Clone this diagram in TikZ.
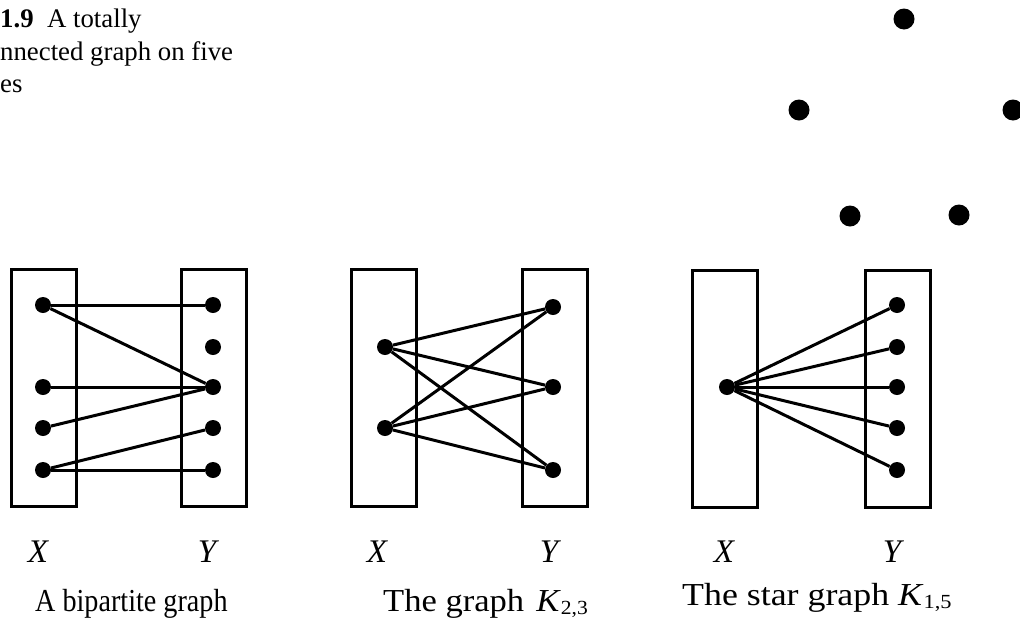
\documentclass[tikz,border=0pt]{standalone}
\usepackage{amsmath}
\usepackage{fontspec}
\setmainfont{Liberation Serif}
\usetikzlibrary{positioning,calc}
\tikzset{
	v/.style={circle,fill=black,inner sep=0pt,minimum size=16pt},
	bigv/.style={circle,fill=black,inner sep=0pt,minimum size=21pt},
	edge/.style={draw=black,line width=3pt},
	part/.style={draw=black,line width=3.2pt,inner sep=0pt,minimum width=65pt,minimum height=237pt},
	captext/.style={font=\fontsize{26.8}{32}\selectfont,inner sep=0pt,anchor=base west},
	sidelbl/.style={font=\fontsize{33}{34}\selectfont\itshape,inner sep=0pt,anchor=base},
	gtitle/.style={font=\fontsize{32}{34}\selectfont,inner sep=0pt,anchor=base west},
}
\newcommand{\Ksub}[1]{\textit{K}\raisebox{-3pt}{\fontsize{20}{20}\selectfont #1}}

\begin{document}
\begin{tikzpicture}[x=1pt,y=-1pt]
			\useasboundingbox (0,0) rectangle (1020,619);
			% caption, cut at the left edge
			\node[captext] (cap1) at (0,27) {\textbf{1.9}\enspace A totally};
			\node[captext] (cap2) at (0,60) {nnected graph on five};
			\node[captext] (cap3) at (0,92) {es};
			% five vertices, no edges
			\foreach \n/\x/\y in {t1/904/19,t2/799/110,t3/1013/110,t4/850/216,t5/959/215}
			\node[bigv] (\n) at (\x,\y) {};
			% a bipartite graph
			\node[part] (X1) at (44,388) {};
			\node[part] (Y1) at (214,388) {};
			\foreach \n/\y in {a1/305,a2/387,a3/428,a4/470}
			\node[v] (\n) at (43,\y) {};
			\foreach \n/\y in {b1/305,b2/347,b3/387,b4/428,b5/470}
			\node[v] (\n) at (213,\y) {};
			\foreach \x/\y in {a1/b1,a1/b3,a2/b3,a3/b3,a4/b4,a4/b5}
			\draw[edge] (\x)--(\y);
			% K_{2,3}
			\node[part] (X2) at (384,388) {};
			\node[part] (Y2) at (555,388) {};
			\foreach \n/\y in {p1/347,p2/428}
			\node[v] (\n) at (385,\y) {};
			\foreach \n/\y in {q1/307,q2/387,q3/470}
			\node[v] (\n) at (553,\y) {};
			\foreach \x in {p1,p2}
			\foreach \y in {q1,q2,q3}
			\draw[edge] (\x)--(\y);
			% K_{1,5}
			\node[part] (X3) at (725,389) {};
			\node[part] (Y3) at (898,389) {};
			\node[v] (s) at (727,387) {};
			\foreach \i/\y in {1/305,2/347,3/387,4/428,5/470}
			{\node[v] (r\i) at (897,\y) {};
			\draw[edge] (s)--(r\i);}
			% labels
			\foreach \g/\x/\y in {1/38/207,2/377/549,3/724/892}
			{\node[sidelbl] (lx\g) at (\x,562) {X};
			\node[sidelbl] (ly\g) at (\y,562) {Y};}
			\node[gtitle] (n1) at (35,611) {\scalebox{0.88}[1]{A bipartite graph}};
			\node[gtitle] (n2) at (383,611) {\scalebox{1.08}[1]{The graph\hspace{0.35em}\Ksub{2,3}}};
			\node[gtitle] (n3) at (682,605) {\scalebox{1.12}[1]{The star graph \Ksub{1,5}}};
		\end{tikzpicture}
\end{document}
